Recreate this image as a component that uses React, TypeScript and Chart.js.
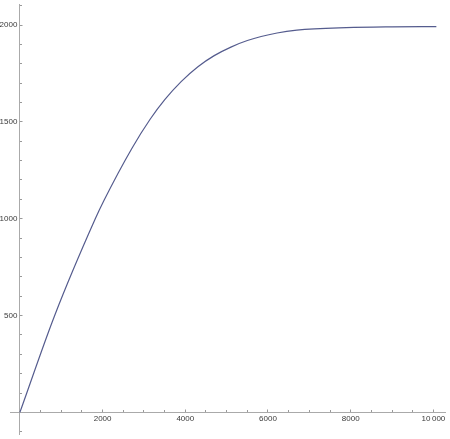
import React, { useEffect, useRef } from "react";
import { Chart, registerables } from "chart.js";

Chart.register(...registerables);

// Curve samples
const curveX = [0, 837, 1818, 2033, 2711, 3158, 3509, 3900, 4306, 4700, 5103, 5502, 6220, 6699, 7895, 9000, 10072];
const curveY = [0, 498, 997, 1094, 1364, 1516, 1616, 1708, 1785, 1842, 1886, 1920, 1959, 1974, 1987, 1991, 1992];

// Tick values and labels
const xMajorTicks = [2000, 4000, 6000, 8000, 10000];
const xTickLabels = ["2000", "4000", "6000", "8000", "10\u2009000"];
const xMinorTicks = [500, 1000, 1500, 2500, 3000, 3500, 4500, 5000, 5500, 6500, 7000, 7500, 8500, 9000, 9500];
const yMajorTicks = [500, 1000, 1500, 2000];
const yTickLabels = ["500", "1000", "1500", "2000"];
const yMinorTicks = [-100, 100, 200, 300, 400, 600, 700, 800, 900, 1100, 1200, 1300, 1400, 1600, 1700, 1800, 1900, 2100];

// Axis ranges
const X_MIN = -239;
const X_MAX = 10287;
const Y_MIN = -112.7;
const Y_MAX = 2104.5;
const Y_LABEL_AT_X = -60;

const LINE = "#555c8e";
const AXIS = "#aaaaaa";
const TICK = "#999999";
const LABEL = "#3a3a3a";
const FONT = { family: "'Liberation Sans', Arial, sans-serif", size: 8 };

export default function App() {
  const ref = useRef<HTMLCanvasElement>(null);

  useEffect(() => {
    const canvas = ref.current;
    if (!canvas) return;
    const zeroW = (s: any) => {
      s.width = 0;
    };
    const zeroH = (s: any) => {
      s.height = 0;
    };
    const fixTicks = (vals: number[]) => (s: any) => {
      s.ticks = vals.map((v) => ({ value: v }));
    };

    const chart = new Chart(canvas, {
      type: "scatter",
      data: {
        datasets: [
          {
            data: curveX.map((x, i) => ({ x, y: curveY[i] })),
            showLine: true,
            borderColor: LINE,
            borderWidth: 1.2,
            pointRadius: 0,
            cubicInterpolationMode: "monotone",
            fill: false,
          } as any,
        ],
      },
      options: {
        animation: false,
        responsive: false,
        events: [],
        layout: { padding: { left: 10, right: 0, top: 0, bottom: 0 } },
        plugins: { legend: { display: false }, tooltip: { enabled: false } },
        scales: {
          x: {
            type: "linear",
            axis: "x",
            min: X_MIN,
            max: X_MAX,
            bounds: "data",
            position: { y: 0 },
            afterBuildTicks: fixTicks(xMajorTicks),
            afterFit: zeroH,
            border: { display: true, color: AXIS, width: 1 },
            grid: { drawOnChartArea: false, drawTicks: true, tickLength: -3.5, tickColor: TICK, tickWidth: 1 },
            ticks: {
              autoSkip: false,
              maxRotation: 0,
              padding: 4.7,
              color: LABEL,
              font: FONT,
              callback: (v: any) => {
                const i = xMajorTicks.indexOf(Number(v));
                return i >= 0 ? xTickLabels[i] : "";
              },
            },
          },
          xMinor: {
            type: "linear",
            axis: "x",
            min: X_MIN,
            max: X_MAX,
            bounds: "data",
            position: { y: 0 },
            afterBuildTicks: fixTicks(xMinorTicks),
            afterFit: zeroH,
            border: { display: false },
            grid: { drawOnChartArea: false, drawTicks: true, tickLength: -2, tickColor: TICK, tickWidth: 1 },
            ticks: { display: false, autoSkip: false },
          },
          y: {
            type: "linear",
            axis: "y",
            min: Y_MIN,
            max: Y_MAX,
            bounds: "data",
            position: { x: 0 },
            afterBuildTicks: fixTicks(yMajorTicks),
            afterFit: zeroW,
            border: { display: true, color: AXIS, width: 1 },
            grid: { drawOnChartArea: false, drawTicks: true, tickLength: -3.5, tickColor: TICK, tickWidth: 1 },
            ticks: { display: false, autoSkip: false },
          },
          yMinor: {
            type: "linear",
            axis: "y",
            min: Y_MIN,
            max: Y_MAX,
            bounds: "data",
            position: { x: 0 },
            afterBuildTicks: fixTicks(yMinorTicks),
            afterFit: zeroW,
            border: { display: false },
            grid: { drawOnChartArea: false, drawTicks: true, tickLength: -2, tickColor: TICK, tickWidth: 1 },
            ticks: { display: false, autoSkip: false },
          },
          yLabels: {
            type: "linear",
            axis: "y",
            min: Y_MIN,
            max: Y_MAX,
            bounds: "data",
            position: { x: Y_LABEL_AT_X },
            afterBuildTicks: fixTicks(yMajorTicks),
            afterFit: zeroW,
            border: { display: false },
            grid: { drawOnChartArea: false, drawTicks: false },
            ticks: {
              autoSkip: false,
              color: LABEL,
              font: FONT,
              padding: 0,
              callback: (v: any) => {
                const i = yMajorTicks.indexOf(Number(v));
                return i >= 0 ? yTickLabels[i] : "";
              },
            },
          },
        } as any,
      },
    });

    return () => chart.destroy();
  }, []);

  return (
    <div style={{ position: "fixed", left: 0, top: 0, width: 450, height: 439, background: "#ffffff" }}>
      <canvas ref={ref} width={450} height={439} style={{ display: "block" }} />
    </div>
  );
}
